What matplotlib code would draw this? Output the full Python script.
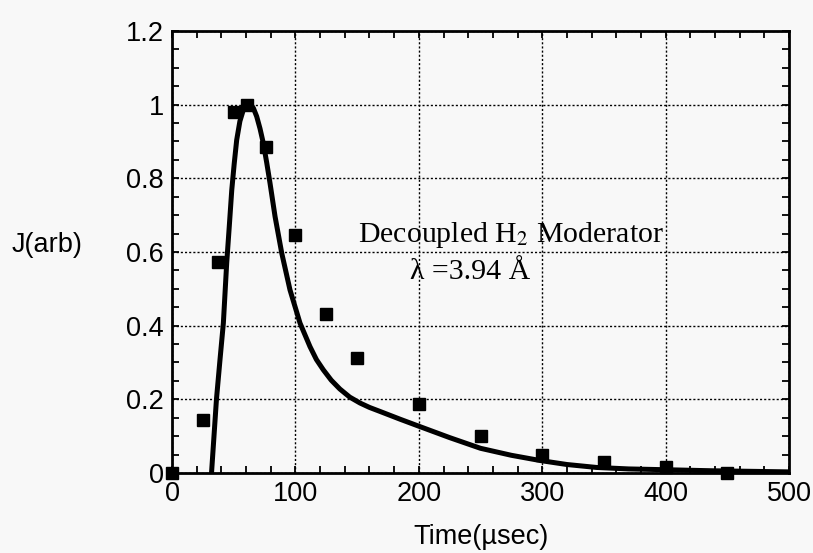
import matplotlib.pyplot as plt
from matplotlib.ticker import MultipleLocator

plt.rcParams['font.family'] = ['Liberation Sans', 'DejaVu Sans']
plt.rcParams['mathtext.fontset'] = 'stix'

# measured points (squares)
meas_t = [0, 25, 37, 50, 61, 76, 100, 125, 150, 200, 250, 300, 350, 400, 450]
meas_j = [0.0, 0.144, 0.573, 0.98, 1.0, 0.886, 0.646, 0.432, 0.312, 0.187, 0.10, 0.049, 0.03, 0.016, 0.0]

# model curve
fit_t = [32, 34, 36, 38.8, 41.6, 44.3, 46.4, 48.4, 50.4, 52.4, 55, 57.8, 60.5, 63.2, 66, 68.6,
         71.3, 74, 76.7, 79.4, 83.5, 88.9, 95.6, 103.7, 111.8, 117, 122.6, 129, 136, 144,
         152.3, 160, 168.6, 184.8, 200, 225, 250, 275, 298, 320, 344, 370, 398, 438, 500]
fit_j = [0.0, 0.1, 0.2, 0.305, 0.407, 0.57, 0.67, 0.768, 0.84, 0.904, 0.955, 0.986, 1.0,
         1.004, 0.99, 0.968, 0.935, 0.895, 0.843, 0.787, 0.696, 0.597, 0.497, 0.407, 0.343,
         0.308, 0.28, 0.252, 0.228, 0.206, 0.19, 0.178, 0.167, 0.146, 0.127, 0.096, 0.067,
         0.048, 0.034, 0.023, 0.015, 0.011, 0.009, 0.006, 0.003]

bg = '#f8f8f8'
fig = plt.figure(figsize=(8.13, 5.53), dpi=100, facecolor=bg)
ax = fig.add_axes([0.2116, 0.1447, 0.7589, 0.7993])
ax.set_facecolor(bg)

ax.plot(fit_t, fit_j, color='black', lw=3.6, solid_capstyle='round',
        solid_joinstyle='round', zorder=3)
ax.plot(meas_t, meas_j, 's', color='black', ms=8.5, clip_on=False, zorder=4)

ax.set_xlim(0, 500)
ax.set_ylim(0, 1.2)
ax.xaxis.set_major_locator(MultipleLocator(100))
ax.xaxis.set_minor_locator(MultipleLocator(20))
ax.yaxis.set_minor_locator(MultipleLocator(0.05))
ax.set_yticks([0, 0.2, 0.4, 0.6, 0.8, 1.0, 1.2])
ax.set_yticklabels(['0', '0.2', '0.4', '0.6', '0.8', '1', '1.2'])

ax.grid(True, which='major', color='black', linestyle=(0, (1.5, 1.5)), lw=1.0)
ax.tick_params(which='both', direction='in', top=True, right=True, width=1.3,
               length=5, labelsize=19.5, pad=6, colors='black')
for s in ax.spines.values():
    s.set_linewidth(2)

ax.set_xlabel('Time(µsec)', fontsize=19.5, labelpad=12)
ax.set_ylabel('J(arb)', fontsize=19.5, rotation=0, va='center')
ax.yaxis.set_label_coords(-0.203, 0.516)

serif = ['Liberation Serif', 'DejaVu Serif']
ax.text(275, 0.647, 'Decoupled H$_2$ Moderator', family=serif, fontsize=21.5,
        ha='center', va='center', zorder=5)
ax.text(193, 0.546, 'λ =3.94 Å', family=serif, fontsize=21.5,
        ha='left', va='center', zorder=5)

fig.savefig('out.png', dpi=100, facecolor=bg)
